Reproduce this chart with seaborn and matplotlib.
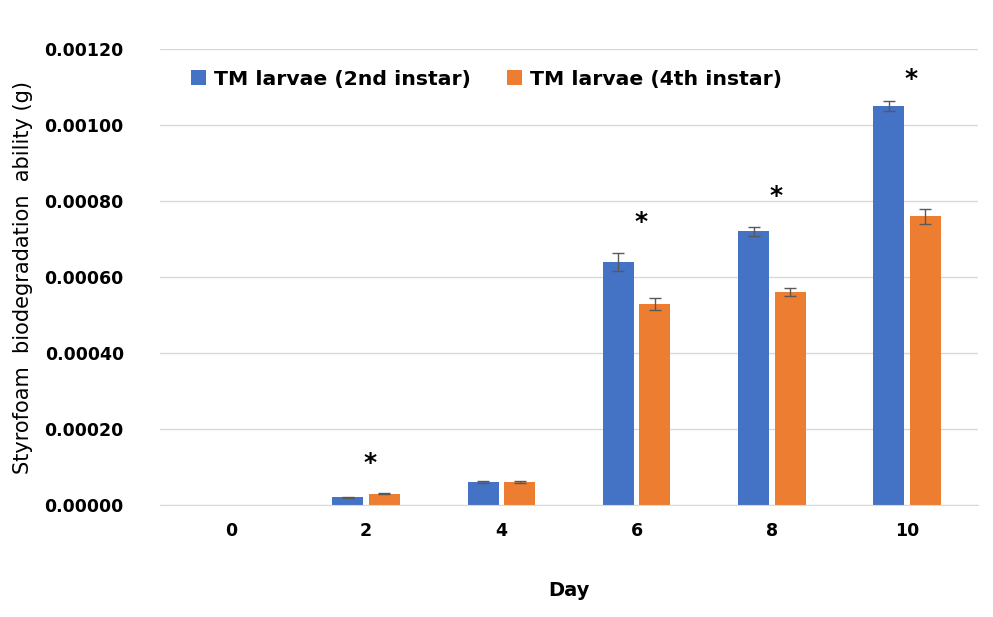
import numpy as np
import pandas as pd
import matplotlib.pyplot as plt
import seaborn as sns

days = ['0', '2', '4', '6', '8', '10']
groups = ['TM larvae (2nd instar)', 'TM larvae (4th instar)']
mean_2nd = [0.0, 0.00002, 0.00006, 0.00064, 0.00072, 0.00105]
mean_4th = [0.0, 0.00003, 0.00006, 0.00053, 0.00056, 0.00076]
err_2nd = [0.0, 0.000001, 0.000002, 0.000024, 0.000012, 0.000014]
err_4th = [0.0, 0.000001, 0.000002, 0.000016, 0.00001, 0.00002]
signif = [False, True, False, True, True, True]
colors = ['#4472C4', '#ED7D31']

df = pd.DataFrame({
    'Day': days * 2,
    'value': mean_2nd + mean_4th,
    'err': err_2nd + err_4th,
    'group': [groups[0]] * len(days) + [groups[1]] * len(days),
})

sns.set_style('white')
plt.rcParams['font.family'] = ['DejaVu Sans']
plt.rcParams['text.color'] = 'black'
plt.rcParams['axes.labelcolor'] = 'black'
plt.rcParams['xtick.color'] = 'black'
plt.rcParams['ytick.color'] = 'black'

fig = plt.figure(figsize=(9.93, 6.17), dpi=100)
ax = fig.add_axes([0.161, 0.1815, 0.824, 0.739])

sns.barplot(data=df, x='Day', y='value', hue='group', order=days, hue_order=groups,
            palette=colors, width=0.54, gap=0.15, errorbar=None, ax=ax,
            saturation=1, edgecolor='none', legend=True)

# error bars on bar centres (skip empty day 0)
for cont, g in zip(ax.containers, groups):
    sub = df[df['group'] == g].set_index('Day').loc[days]
    xs = np.array([p.get_x() + p.get_width() / 2 for p in cont.patches])
    keep = sub['value'].values > 0
    ax.errorbar(xs[keep], sub['value'].values[keep], yerr=sub['err'].values[keep],
                fmt='none', ecolor='#595959', elinewidth=1, capsize=4, capthick=1, zorder=3)

# significance stars
for i, s in enumerate(signif):
    if s:
        top = max(mean_2nd[i] + err_2nd[i], mean_4th[i] + err_4th[i])
        ax.text(i + 0.03, min(top + 0.00008, 0.00112), '*', ha='center', va='center',
                fontsize=18, fontweight='bold', color='black')

ax.set_ylim(0, 0.0012)
ax.set_yticks(np.arange(0, 0.00121, 0.0002))
ax.set_yticklabels([f'{v:.5f}' for v in np.arange(0, 0.00121, 0.0002)])
ax.yaxis.grid(True, color='#d9d9d9', linewidth=1)
ax.set_axisbelow(True)
for sp in ['top', 'right', 'left']:
    ax.spines[sp].set_visible(False)
ax.spines['bottom'].set_color('#d9d9d9')
ax.tick_params(axis='both', length=0, labelsize=12.5)
ax.tick_params(axis='y', pad=26)
ax.tick_params(axis='x', pad=12)
for lab in ax.get_xticklabels() + ax.get_yticklabels():
    lab.set_fontweight('bold')

ax.set_xlabel('Day', fontsize=14, fontweight='bold', labelpad=30)
ax.set_ylabel('Styrofoam  biodegradation  ability (g)', fontsize=15, labelpad=8)

ax.legend(title=None, loc='upper left', bbox_to_anchor=(0.015, 0.995), ncol=2,
          frameon=False, prop={'size': 14.7, 'weight': 'bold'},
          handlelength=0.75, handleheight=0.75, handletextpad=0.4, columnspacing=1.75)

fig.savefig('out.png', dpi=100)
